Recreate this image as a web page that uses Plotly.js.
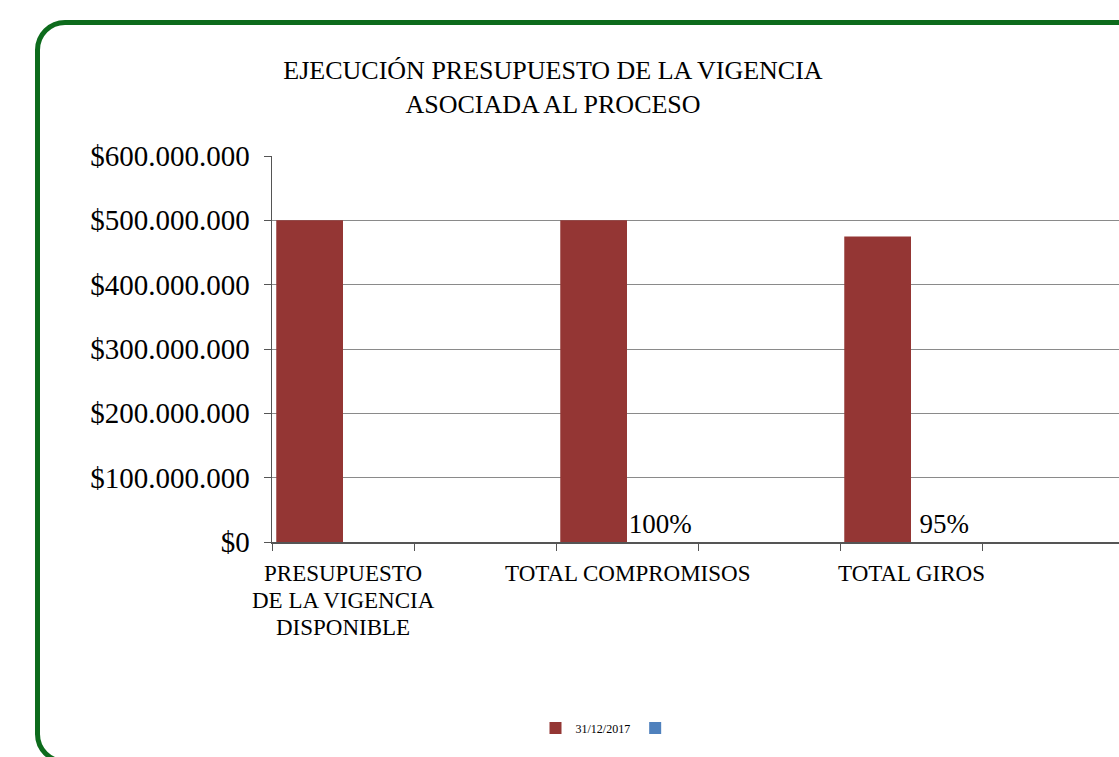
<!DOCTYPE html>
<html>
<head>
<meta charset="utf-8">
<script src="https://cdn.plot.ly/plotly-3.0.1.min.js"></script>
<style>
  html, body { margin:0; padding:0; width:1119px; height:757px; overflow:hidden; background:#fff; }
  #frame { position:absolute; left:35px; top:20px; width:1200px; height:744px; border:5.5px solid #0d6b1c; border-radius:30px; box-sizing:border-box; }
  #chart { position:absolute; left:0; top:0; width:1200px; height:757px; }
</style>
</head>
<body>
<div id="frame"></div>
<div id="chart"></div>
<script>
// Data
var categories = ['PRESUPUESTO<br>DE LA VIGENCIA<br>DISPONIBLE', 'TOTAL COMPROMISOS', 'TOTAL GIROS'];
var seriesName = '31/12/2017';
var seriesValues = [500000000, 500000000, 475000000];
var percentValues = [null, 1.00, 0.95];
var yTicks = [0, 100000000, 200000000, 300000000, 400000000, 500000000, 600000000];
var chartTitle = 'EJECUCIÓN PRESUPUESTO DE LA VIGENCIA<br>ASOCIADA AL PROCESO';

var FONT = '"Liberation Serif", "Times New Roman", serif';
function money(v){ return '$' + String(v).replace(/\B(?=(\d{3})+(?!\d))/g, '.'); }
// categories occupy every other slot (empty slots in between)
var xPos = categories.map(function(c, i){ return i * 2; });
var nSlots = categories.length * 2;
var boundaries = [];
for (var b = 0; b <= nSlots; b++) boundaries.push(b - 0.5);

var traces = [
  { type:'bar', name: seriesName, x: xPos, y: seriesValues,
    marker:{ color:'#943634' }, hoverinfo:'y' },
  { type:'bar', name: '', x: xPos, y: percentValues,
    marker:{ color:'#4f81bd' },
    texttemplate:'%{y:.0%}', textposition:'outside', cliponaxis:false,
    textfont:{ family:FONT, size:27, color:'#000' } }
];

var annotations = [];
categories.forEach(function(c, i){
  c.split('<br>').forEach(function(line, k){
    annotations.push({ text:line, x:xPos[i], xref:'x', y:1, yref:'paper', yshift:-403 - 27*k, yanchor:'top',
           showarrow:false, font:{ family:FONT, size:23, color:'#000' }, align:'center' });
  });
});

var layout = {
  width:1200, height:757,
  font:{ family:FONT, color:'#000' },
  margin:{ l:272, r:76, t:156, b:215 },
  paper_bgcolor:'rgba(0,0,0,0)', plot_bgcolor:'rgba(0,0,0,0)',
  separators:',.',
  barmode:'group', bargap:0.53, bargroupgap:0,
  title:{ text:chartTitle, xref:'container', x:553/1200, xanchor:'center',
          yref:'container', y:1-79/757, yanchor:'middle',
          font:{ family:FONT, size:26, color:'#000' } },
  xaxis:{ type:'linear', range:[-0.5, nSlots - 0.5], tickvals:boundaries,
          ticktext:boundaries.map(function(){ return ''; }),
          ticks:'outside', ticklen:7, tickcolor:'#555', showgrid:false, zeroline:false,
          showline:true, linecolor:'#555', linewidth:1.5, fixedrange:true },
  yaxis:{ range:[0, 600000000], tickmode:'array', tickvals:yTicks, ticktext:yTicks.map(money),
          ticks:'outside', ticklen:7, tickcolor:'#555', showline:true, linecolor:'#555', linewidth:1.5,
          ticklabelstandoff:8,
          gridcolor:'#8a8a8a', gridwidth:1, zeroline:false,
          tickfont:{ family:FONT, size:29, color:'#000' } },
  showlegend:true,
  legend:{ orientation:'h', xref:'container', x:608/1200, xanchor:'center',
           yref:'container', y:1-728/757, yanchor:'middle',
           font:{ family:FONT, size:12, color:'#000' }, itemwidth:30 },
  annotations: annotations
};

Plotly.newPlot('chart', traces, layout, { displayModeBar:false, staticPlot:true });
</script>
</body>
</html>
